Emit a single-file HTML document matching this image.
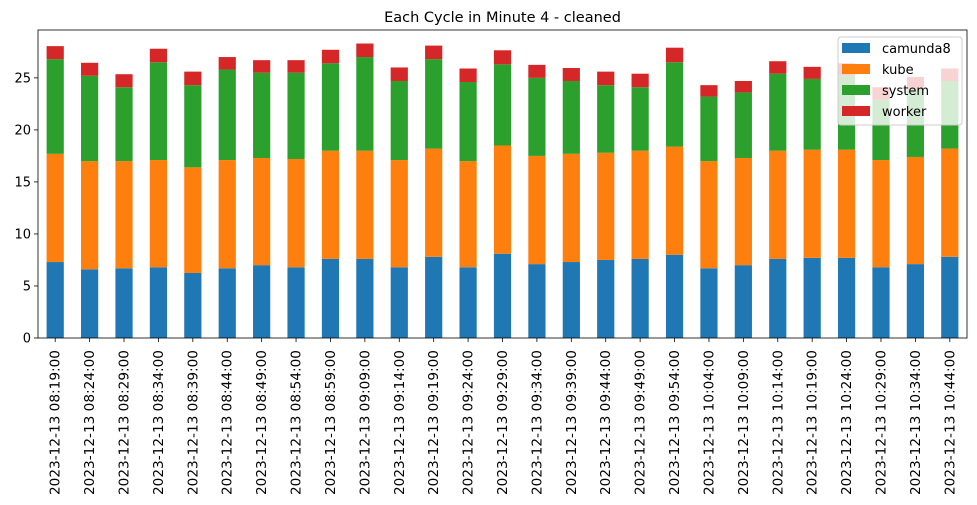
<!DOCTYPE html>
<html><head><meta charset="utf-8">
<style>
body{margin:0;background:#fff;}
svg{display:block;font-family:"DejaVu Sans","Liberation Sans",sans-serif;}
</style></head>
<body>
<svg id="chart" width="977" height="505"></svg>
<script>
const categories=["2023-12-13 08:19:00","2023-12-13 08:24:00","2023-12-13 08:29:00","2023-12-13 08:34:00","2023-12-13 08:39:00","2023-12-13 08:44:00","2023-12-13 08:49:00","2023-12-13 08:54:00","2023-12-13 08:59:00","2023-12-13 09:09:00","2023-12-13 09:14:00","2023-12-13 09:19:00","2023-12-13 09:24:00","2023-12-13 09:29:00","2023-12-13 09:34:00","2023-12-13 09:39:00","2023-12-13 09:44:00","2023-12-13 09:49:00","2023-12-13 09:54:00","2023-12-13 10:04:00","2023-12-13 10:09:00","2023-12-13 10:14:00","2023-12-13 10:19:00","2023-12-13 10:24:00","2023-12-13 10:29:00","2023-12-13 10:34:00","2023-12-13 10:44:00"];
const camunda8=[7.3,6.6,6.7,6.8,6.25,6.7,7.0,6.8,7.6,7.6,6.8,7.8,6.8,8.1,7.1,7.3,7.5,7.6,8.0,6.7,7.0,7.6,7.7,7.7,6.8,7.1,7.8];
const kube=[10.4,10.4,10.3,10.3,10.15,10.4,10.3,10.4,10.4,10.4,10.3,10.4,10.2,10.4,10.4,10.4,10.3,10.4,10.4,10.3,10.3,10.4,10.4,10.4,10.3,10.3,10.4];
const system=[9.1,8.2,7.1,9.4,7.9,8.7,8.2,8.3,8.4,9.0,7.6,8.6,7.6,7.8,7.5,7.0,6.5,6.1,8.1,6.2,6.3,7.4,6.8,7.1,5.8,6.5,6.5];
const worker=[1.25,1.25,1.25,1.3,1.3,1.2,1.2,1.2,1.3,1.3,1.3,1.3,1.3,1.35,1.25,1.25,1.3,1.3,1.4,1.1,1.1,1.2,1.16,1.2,1.2,1.2,1.2];
const yTicks=[0,5,10,15,20,25];
const seriesNames=["camunda8","kube","system","worker"];
const seriesColors=["#1f77b4","#ff7f0e","#2ca02c","#d62728"];

const NS="http://www.w3.org/2000/svg";
const svg=document.getElementById('chart');
const L=38,R=967,T=30,B=338,yMax=29.6;
const n=categories.length;
const step=(R-L)/n;
function x(i){return L+step*(i+0.5);}
function y(v){return B-(v/yMax)*(B-T);}
function mk(tag,attrs,parent){const e=document.createElementNS(NS,tag);for(const k in attrs)e.setAttribute(k,attrs[k]);(parent||svg).appendChild(e);return e;}

const title=mk('text',{x:(L+R)/2,y:22,'text-anchor':'middle','font-size':14.5,fill:'#000'});
title.textContent="Each Cycle in Minute 4 - cleaned";



const data=[camunda8,kube,system,worker];
const bw=step*0.5;
for(let i=0;i<n;i++){
  let base=0;
  for(let s=0;s<4;s++){
    const v=data[s][i];
    const r=mk('rect',{x:x(i)-bw/2,y:y(base+v),width:bw,height:y(base)-y(base+v),fill:seriesColors[s]});
    
    
    base+=v;
  }
}
const axes=mk('rect',{x:L,y:T,width:R-L,height:B-T,fill:'none',stroke:'#000','stroke-width':0.8});



yTicks.forEach(t=>{
  mk('line',{x1:L-4,x2:L,y1:y(t),y2:y(t),stroke:'#000','stroke-width':0.8});
  const tx=mk('text',{x:L-7,y:y(t)+4.5,'text-anchor':'end','font-size':13});
  tx.textContent=t;
  
  
});
for(let i=0;i<n;i++){
  mk('line',{x1:x(i),x2:x(i),y1:B,y2:B+4,stroke:'#000','stroke-width':0.8});
  const tx=mk('text',{x:0,y:0,'text-anchor':'end','font-size':13,textLength:145,lengthAdjust:'spacingAndGlyphs',transform:`translate(${x(i)+4.5},${B+12}) rotate(-90)`});
  tx.textContent=categories[i];
  
  
}
const lg=mk('g',{});


mk('rect',{x:838,y:37,width:124,height:88,rx:3,fill:'#fff','fill-opacity':0.8,stroke:'#ccc'},lg);
seriesNames.forEach((nm,s)=>{
  const yy=48+s*21;
  mk('rect',{x:842,y:yy-5,width:28,height:10,fill:seriesColors[s]},lg);
  const tx=mk('text',{x:882,y:yy+5,'font-size':13},lg);
  tx.textContent=nm;
  
  
});
</script>
</body></html>
